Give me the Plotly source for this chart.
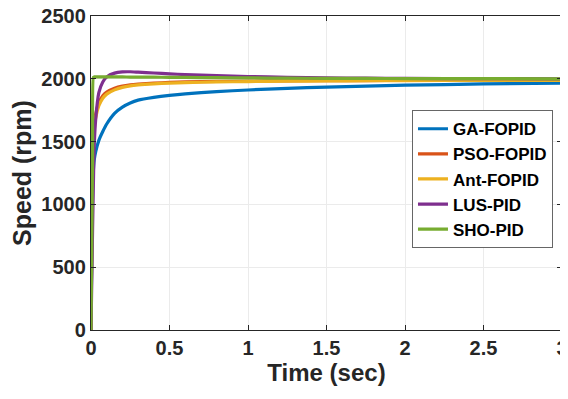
import plotly.graph_objects as go

time_s = [0, 0.005, 0.01, 0.015, 0.02, 0.03, 0.05, 0.075, 0.1, 0.15, 0.2, 0.25, 0.3,
          0.4, 0.5, 0.6, 0.8, 1.0, 1.25, 1.5, 1.75, 2.0, 2.5, 3.0]

ga_fopid = [0, 650, 1100, 1270, 1350, 1420, 1510, 1580, 1640, 1725, 1775, 1808, 1830,
            1852, 1868, 1880, 1898, 1911, 1924, 1934, 1942, 1949, 1959, 1966]
pso_fopid = [0, 800, 1300, 1500, 1620, 1720, 1810, 1865, 1895, 1925, 1942, 1952, 1958,
             1966, 1971, 1975, 1979, 1982, 1984, 1985, 1986, 1987, 1988, 1989]
ant_fopid = [0, 750, 1250, 1450, 1580, 1690, 1785, 1845, 1878, 1912, 1932, 1944, 1951,
             1960, 1966, 1970, 1975, 1978, 1981, 1983, 1985, 1986, 1987, 1988]
lus_pid = [0, 400, 800, 1150, 1450, 1680, 1890, 1975, 2015, 2045, 2055, 2056, 2053,
           2046, 2040, 2033, 2025, 2018, 2012, 2008, 2005, 2003, 2001, 2000]
sho_pid = [0, 700, 1400, 2012, 2015, 2016, 2016, 2016, 2016, 2015, 2015, 2014, 2014,
           2013, 2012, 2011, 2009, 2007, 2005, 2004, 2003, 2002, 2001, 2000]

series = [
    ("GA-FOPID", ga_fopid, "#0072BD"),
    ("PSO-FOPID", pso_fopid, "#D95319"),
    ("Ant-FOPID", ant_fopid, "#EDB120"),
    ("LUS-PID", lus_pid, "#7E2F8E"),
    ("SHO-PID", sho_pid, "#77AC30"),
]

x_ticks = [0, 0.5, 1, 1.5, 2, 2.5, 3]
x_tick_labels = ["0", "0.5", "1", "1.5", "2", "2.5", "3"]
y_ticks = [0, 500, 1000, 1500, 2000, 2500]

fig = go.Figure()
for name, vals, color in series:
    fig.add_trace(go.Scatter(x=time_s, y=vals, mode="lines", name=name,
                             line=dict(color=color, width=3.2, shape="spline", smoothing=0.6)))

font_fam = "Liberation Sans, Arial, sans-serif"
axis_common = dict(
    showline=True, linecolor="#262626", linewidth=1.3, mirror="ticks",
    ticks="inside", ticklen=5, tickcolor="#262626", tickwidth=1.2,
    showgrid=True, gridcolor="#ebebeb", gridwidth=1, zeroline=False,
    automargin=False, ticklabeloverflow="allow",
    tickfont=dict(family=font_fam, size=20, color="#262626", weight="bold"),
)

# the page body has an 8 px margin, so the figure is sized to the visible area
fig.update_layout(
    width=560, height=383,
    margin=dict(l=83, r=6, t=8, b=61),
    paper_bgcolor="white", plot_bgcolor="white",
    font=dict(family=font_fam, color="#262626"),
    xaxis=dict(range=[0, 3], tickvals=x_ticks, ticktext=x_tick_labels,
               title=dict(text="Time (sec)", font=dict(family=font_fam, size=24, weight="bold"), standoff=6),
               **axis_common),
    yaxis=dict(range=[0, 2500], tickvals=y_ticks,
               title=dict(text="Speed (rpm)", font=dict(family=font_fam, size=25, weight="bold"), standoff=3),
               **axis_common),
    legend=dict(x=0.6815, y=0.70, xanchor="left", yanchor="top",
                bgcolor="white", bordercolor="#666666", borderwidth=1,
                font=dict(family=font_fam, size=17, color="#000000", weight="bold"),
                itemwidth=30, tracegroupgap=0),
    showlegend=True,
)

fig.write_html("out.html")
